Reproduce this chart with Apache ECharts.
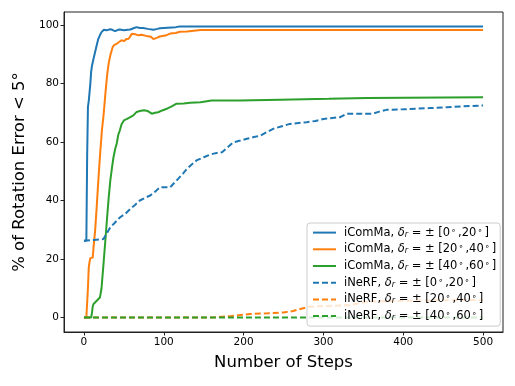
<!DOCTYPE html>
<html>
<head>
<meta charset="utf-8">
<script src="https://cdn.jsdelivr.net/npm/echarts@6/dist/echarts.min.js"></script>
<style>
  html, body { margin: 0; padding: 0; background: #fff; }
  #chart { width: 515px; height: 386px; }
</style>
</head>
<body>
<div id="chart"></div>
<script>
// [step, % of rotation error < 5 deg]
const icomma0_20 = [[0,26.2],[3,26.2],[4,55],[5,72],[6,74],[8,80],[9,84],[10,86],[12,88.5],[15,92],[18,95.3],[20,96.5],[22,97.6],[25,98.4],[28,98.2],[33,98.6],[36,98.3],[39,97.9],[42,98.3],[45,98.5],[50,98.2],[55,98.4],[58,98.5],[62,98.9],[66,99.3],[70,99.0],[74,99.0],[80,98.7],[87,98.4],[92,98.7],[95,98.9],[105,99.1],[115,99.3],[120,99.5],[500,99.5]];
const icomma20_40 = [[0,0],[3,0],[5,10],[6,17],[7,19],[8,20.3],[11,20.5],[12,24],[14,29.7],[16,38],[18,46.8],[20,55],[22.5,64],[24.5,69],[27,77],[29,82.8],[31,87],[33,89.6],[36,92.5],[38,93.2],[41,93.6],[44,94.2],[47,94.8],[50,94.5],[53,95.2],[56,95.3],[58,95.8],[60,97],[64,96.9],[68,96.5],[72,96.7],[78,96.3],[84,96],[87,95.2],[89,95.1],[92,95.7],[95,96.1],[102,96.4],[108,97.1],[115,97.3],[120,97.7],[129,97.8],[135,98.0],[146,98.3],[500,98.3]];
const icomma40_60 = [[0,0],[9,0],[10,1.5],[11,3.8],[12,4.6],[14,5.2],[16,5.7],[18,6.1],[20,6.8],[22,10],[24.5,18.3],[27,27],[29,34.2],[31,41],[33,46.8],[35,51],[37,54.8],[39,57.5],[41,59.4],[43,62.5],[45,64],[47,66],[50,67.4],[52,67.1],[54,67.9],[58,68.5],[62,69.1],[66,70.3],[70,70.6],[75,70.9],[80,70.6],[85,69.7],[89,70],[93,70.2],[98,70.8],[104,71.4],[110,72.2],[116,73.1],[125,73.2],[133,73.4],[146,73.6],[160,74.2],[195,74.2],[196,74.5],[246,74.5],[247,74.8],[307,74.8],[308,75.1],[355,75.1],[356,75.3],[500,75.3]];
const inerf0_20 = [[0,26.2],[12,26.5],[24.5,26.8],[28,28.5],[33,30.8],[39,32.5],[45,34.2],[52,35.5],[58,37.1],[64,38.5],[70,40],[77,41],[83,41.7],[90,43.2],[95,44.5],[108,44.5],[113,46],[118,47.4],[124,49.2],[129,50.8],[135,52.3],[141,53.7],[150,54.8],[158,55.7],[165,56.2],[173,56.5],[180,58.2],[187,59.9],[196,60.5],[204,61.1],[213,61.7],[221,62.2],[229,63.4],[237,64.5],[248,65.4],[258,66.2],[279,66.8],[290,67.2],[300,67.9],[321,68.5],[329,69.7],[362,69.7],[370,70.4],[379,71.0],[400,71.2],[433,71.6],[455,71.9],[475,72.2],[500,72.5]];
const inerf20_40 = [[0,0],[160,0],[185,0.5],[208,1.2],[230,1.4],[250,1.7],[262,2.2],[271,2.9],[283,3.7],[300,3.9],[333,4.2],[355,5.4],[400,5.7],[450,5.9],[500,6.0]];
const inerf40_60 = [[0,0],[500,0]];

const methods = ['iComMa', 'iNeRF'];
const ranges = [[0, 20], [20, 40], [40, 60]];
const colors = ['#1f77b4', '#ff7f0e', '#2ca02c'];
const xTicks = [0, 100, 200, 300, 400, 500];
const yTicks = [0, 20, 40, 60, 80, 100];

const seriesData = [
  [icomma0_20, icomma20_40, icomma40_60],
  [inerf0_20, inerf20_40, inerf40_60]
];

const series = [];
methods.forEach((m, mi) => {
  ranges.forEach((r, ri) => {
    series.push({
      name: `${m}|${r[0]}|${r[1]}`,
      type: 'line',
      data: seriesData[mi][ri],
      symbol: 'none',
      animation: false,
      lineStyle: {
        color: colors[ri],
        width: 2,
        type: mi === 0 ? 'solid' : [6, 3]
      },
      itemStyle: { color: colors[ri] }
    });
  });
});

const font = 'DejaVu Sans';
const chart = echarts.init(document.getElementById('chart'));
chart.setOption({
  backgroundColor: '#fff',
  animation: false,
  grid: {
    left: 64, right: 12, top: 12, bottom: 54,
    show: true, borderColor: '#222', borderWidth: 1
  },
  xAxis: {
    type: 'value',
    min: -25, max: 525,
    name: 'Number of Steps',
    nameLocation: 'middle',
    nameGap: 22,
    nameTextStyle: { fontFamily: font, fontSize: 16.5, color: '#000' },
    axisLine: { onZero: false, lineStyle: { color: '#222', width: 1 } },
    axisTick: { customValues: xTicks, length: 3.5, lineStyle: { color: '#222' } },
    axisLabel: { customValues: xTicks, fontFamily: font, fontSize: 10.5, color: '#000', margin: 5 },
    splitLine: { show: false }
  },
  yAxis: {
    type: 'value',
    min: -4.975, max: 104.475,
    name: '% of Rotation Error < 5°',
    nameLocation: 'middle',
    nameGap: 35,
    nameTextStyle: { fontFamily: font, fontSize: 16.5, color: '#000' },
    axisLine: { show: true, onZero: false, lineStyle: { color: '#222', width: 1 } },
    axisTick: { customValues: yTicks, length: 3.5, lineStyle: { color: '#222' } },
    axisLabel: { customValues: yTicks, fontFamily: font, fontSize: 10.5, color: '#000', margin: 5 },
    splitLine: { show: false }
  },
  legend: {
    orient: 'vertical',
    left: 307, top: 223,
    padding: [3.6, 4, 4, 5],
    itemWidth: 23, itemHeight: 12, itemGap: 4.7,
    itemStyle: { opacity: 0 },
    backgroundColor: 'rgba(255,255,255,0.8)',
    borderColor: '#cccccc', borderWidth: 1, borderRadius: 3,
    data: series.map(s => s.name),
    formatter: name => {
      const [m, a, b] = name.split('|');
      return `${m}, {i|δ}{sub|r} = ± [${a}{deg|∘},${b}{deg|∘}]`;
    },
    textStyle: {
      fontFamily: font, fontSize: 11.5, color: '#000', lineHeight: 12,
      padding: [0, 0, 0, 3],
      rich: {
        i: { fontFamily: font, fontSize: 11.5, fontStyle: 'italic', lineHeight: 12 },
        sub: { fontFamily: font, fontSize: 8, fontStyle: 'italic', lineHeight: 12, verticalAlign: 'bottom', padding: [4, 0, 0, 0] },
        deg: { fontFamily: font, fontSize: 8, lineHeight: 12, verticalAlign: 'top', padding: [0, 2, 4, 1] }
      }
    }
  },
  series: series
});
</script>
</body>
</html>
